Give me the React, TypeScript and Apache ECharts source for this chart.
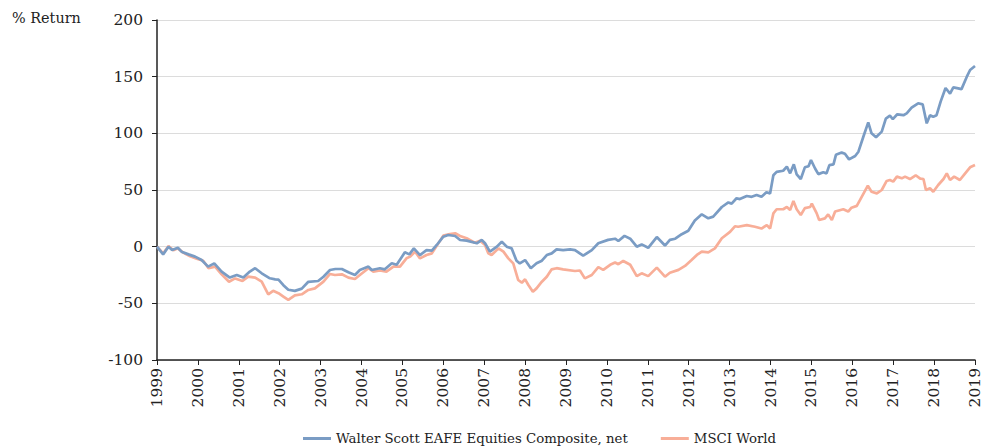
import React, { useEffect, useRef } from "react";
import * as echarts from "echarts";

const seriesNames = ["Walter Scott EAFE Equities Composite, net", "MSCI World"];
const yTicks = { min: -100, max: 200, interval: 50 };
const xTicks = { min: 1999, max: 2019, interval: 1 };

const wsYears = [
  1999.0, 1999.15, 1999.28, 1999.37, 1999.51, 1999.6, 1999.77, 1999.93, 2000.09, 2000.25, 2000.4, 2000.58,
  2000.78, 2000.95, 2001.11, 2001.27, 2001.4, 2001.56, 2001.76, 2001.89, 2001.97, 2002.09, 2002.21, 2002.37,
  2002.54, 2002.7, 2002.94, 2003.07, 2003.23, 2003.36, 2003.52, 2003.68, 2003.84, 2003.96, 2004.17, 2004.25,
  2004.45, 2004.57, 2004.74, 2004.86, 2005.06, 2005.17, 2005.28, 2005.43, 2005.59, 2005.72, 2005.84, 2006.0,
  2006.12, 2006.29, 2006.41, 2006.57, 2006.82, 2006.94, 2007.02, 2007.14, 2007.31, 2007.43, 2007.55, 2007.67,
  2007.79, 2007.87, 2008.0, 2008.14, 2008.28, 2008.41, 2008.53, 2008.65, 2008.77, 2008.93, 2009.1, 2009.22,
  2009.42, 2009.63, 2009.79, 2010.03, 2010.2, 2010.28, 2010.43, 2010.57, 2010.73, 2010.85, 2011.01, 2011.22,
  2011.42, 2011.54, 2011.67, 2011.83, 2011.99, 2012.15, 2012.32, 2012.48, 2012.6, 2012.81, 2012.97, 2013.05,
  2013.17, 2013.25, 2013.42, 2013.54, 2013.66, 2013.78, 2013.9, 2013.99, 2014.07, 2014.15, 2014.31, 2014.4,
  2014.48, 2014.57, 2014.64, 2014.74, 2014.84, 2014.93, 2014.99, 2015.09, 2015.17, 2015.29, 2015.37, 2015.44,
  2015.54, 2015.6, 2015.74, 2015.82, 2015.92, 2016.07, 2016.15, 2016.27, 2016.39, 2016.47, 2016.58, 2016.72,
  2016.82, 2016.92, 2016.99, 2017.1, 2017.25, 2017.33, 2017.45, 2017.61, 2017.72, 2017.82, 2017.9, 2017.98,
  2018.06, 2018.16, 2018.28, 2018.39, 2018.47, 2018.59, 2018.67, 2018.8, 2018.88, 2019.0,
];
const wsValues = [
  0, -6.8, 0, -3, -1, -4.4, -6.8, -8.8, -11.8, -17.6, -14.7, -22,
  -27.3, -25, -27.3, -22, -19, -23.5, -27.9, -28.8, -29, -34, -38, -39,
  -37, -31, -30.3, -26.5, -20.6, -19.7, -19.7, -22.6, -25, -20.6, -17.6, -20.6,
  -19, -20, -14.7, -16, -5, -6.8, -1.5, -7.4, -3, -3.5, 1.5, 8.8,
  10.3, 9.4, 5.9, 5.3, 3, 5.9, 3, -4.4, 0, 4.4, 0, -1.5,
  -12.4, -14.7, -11.8, -19, -14.7, -12.4, -7.4, -5.9, -2.4, -3, -2.4, -3,
  -8, -3, 3, 6, 7, 5, 9.5, 7, 0, 2, -1, 8.5,
  1, 6, 7, 11, 14, 23, 28.5, 25, 26.5, 35, 39, 38,
  42.7, 42, 44.7, 44, 45.6, 44, 48, 47, 63, 66, 67, 70.6,
  64.7, 72.6, 63.8, 59.7, 70, 71, 76.5, 69, 64, 65.6, 64.7, 72,
  72.6, 81, 83, 82, 77, 80, 83.8, 97, 109.7, 100, 96.5, 101.5,
  113, 115.6, 112.6, 116.8, 116, 117.6, 122.6, 126.5, 125.6, 108.8, 116, 114.7,
  116, 128, 140, 135, 140.6, 139.7, 139, 150, 155.9, 159.4,
];

const msYears = [
  1999.0, 1999.15, 1999.28, 1999.4, 1999.51, 1999.64, 1999.81, 1999.97, 2000.13, 2000.26, 2000.42, 2000.58,
  2000.76, 2000.91, 2001.09, 2001.23, 2001.4, 2001.56, 2001.72, 2001.84, 2001.97, 2002.09, 2002.21, 2002.37,
  2002.54, 2002.7, 2002.86, 2003.07, 2003.23, 2003.35, 2003.52, 2003.68, 2003.84, 2003.96, 2004.17, 2004.29,
  2004.45, 2004.61, 2004.78, 2004.94, 2005.1, 2005.19, 2005.31, 2005.43, 2005.59, 2005.72, 2005.88, 2006.0,
  2006.16, 2006.29, 2006.41, 2006.57, 2006.77, 2006.9, 2007.02, 2007.1, 2007.18, 2007.35, 2007.47, 2007.59,
  2007.71, 2007.83, 2007.92, 2008.0, 2008.08, 2008.19, 2008.28, 2008.41, 2008.53, 2008.65, 2008.77, 2008.93,
  2009.22, 2009.34, 2009.46, 2009.63, 2009.79, 2009.91, 2010.08, 2010.2, 2010.28, 2010.4, 2010.57, 2010.73,
  2010.85, 2011.01, 2011.22, 2011.42, 2011.54, 2011.75, 2011.91, 2012.07, 2012.2, 2012.32, 2012.48, 2012.64,
  2012.81, 2013.01, 2013.13, 2013.21, 2013.42, 2013.62, 2013.78, 2013.91, 2013.99, 2014.07, 2014.15, 2014.31,
  2014.4, 2014.48, 2014.56, 2014.64, 2014.74, 2014.84, 2014.97, 2015.01, 2015.13, 2015.19, 2015.33, 2015.41,
  2015.5, 2015.58, 2015.78, 2015.9, 2015.98, 2016.11, 2016.23, 2016.38, 2016.47, 2016.6, 2016.72, 2016.84,
  2016.92, 2017.0, 2017.09, 2017.21, 2017.29, 2017.41, 2017.55, 2017.66, 2017.74, 2017.8, 2017.9, 2017.98,
  2018.1, 2018.23, 2018.31, 2018.39, 2018.49, 2018.63, 2018.76, 2018.88, 2019.0,
];
const msValues = [
  0, -6, 0.5, -3.2, -1.5, -5.3, -8.5, -10.6, -12.4, -19, -17.6, -24.4,
  -30.9, -28, -30.3, -26.5, -27.3, -30.9, -42, -39, -41, -44, -47, -43,
  -42, -38.2, -36.8, -30.9, -24.1, -25, -24.4, -27.3, -28.5, -25, -19, -22,
  -21, -22, -17.6, -17.6, -10.3, -8.8, -4.4, -10.3, -7.4, -5.9, 2.9, 9.7,
  11.2, 11.8, 9.4, 7.4, 3.5, 5.3, 1.5, -5.9, -7.4, -1.5, -4.4, -10.3,
  -14.7, -29.4, -31.8, -28.8, -33.8, -39.7, -36.8, -30.9, -26.5, -20, -19, -20,
  -21.5, -21, -28, -25, -18, -20.5, -16, -14, -15.5, -12.6, -16, -26,
  -23.5, -26, -18.5, -26.5, -23, -20.5, -17, -11.8, -7.3, -4.4, -5, -1.5,
  7.4, 13, 18, 17.6, 19, 17.6, 16, 19, 16, 29.4, 33, 33,
  35, 32.4, 40.3, 33, 28, 34, 35, 38, 29.4, 23.5, 25, 28.5,
  23.5, 31, 33, 31, 34.4, 36, 44, 53.8, 48.5, 47, 50, 58,
  58.8, 57.4, 61.8, 60.3, 61.8, 59.7, 63, 60, 59.7, 50, 51.5, 48.5,
  54.4, 59.7, 64.7, 58.8, 61.8, 58.8, 64.7, 70, 72,
];

const BLUE = "#7a9cc4";
const SALMON = "#f8ae98";
const FONT = "DejaVu Serif";
const TEXT = "#222222";
const AXIS_FS = 15.5;
const LEGEND_FS = 13.3;

export default function App() {
  const ref = useRef<HTMLDivElement>(null);
  useEffect(() => {
    if (!ref.current) return;
    const chart = echarts.init(ref.current, null, { renderer: "svg" });
    chart.setOption({
      animation: false,
      textStyle: { fontFamily: FONT, color: TEXT },
      grid: { left: 157, right: 15, top: 20, bottom: 88, containLabel: false },
      graphic: [
        {
          type: "text",
          left: 12,
          top: 11,
          style: { text: "% Return", font: `14.4px "${FONT}"`, fill: TEXT },
        },
      ],
      legend: {
        left: 298,
        top: 427,
        icon: "rect",
        itemWidth: 28,
        itemHeight: 3,
        itemGap: 33,
        textStyle: { fontFamily: FONT, fontSize: LEGEND_FS, color: TEXT },
        data: seriesNames,
      },
      xAxis: {
        type: "value",
        min: xTicks.min,
        max: xTicks.max,
        interval: xTicks.interval,
        axisLine: { show: true, onZero: false, lineStyle: { color: "#222", width: 1.5 } },
        axisTick: { show: true, length: 5, lineStyle: { color: "#222" } },
        splitLine: { show: false },
        axisLabel: {
          rotate: 90,
          margin: 8,
          fontFamily: FONT,
          fontSize: AXIS_FS,
          color: TEXT,
          formatter: (v: number) => String(Math.round(v)),
        },
      },
      yAxis: {
        type: "value",
        min: yTicks.min,
        max: yTicks.max,
        interval: yTicks.interval,
        axisLine: { show: true, lineStyle: { color: "#222", width: 1.5 } },
        axisTick: { show: true, length: 5, lineStyle: { color: "#222" } },
        splitLine: { show: true, lineStyle: { color: "#dcdcdc", width: 1 } },
        axisLabel: { margin: 14, fontFamily: FONT, fontSize: AXIS_FS, color: TEXT },
      },
      series: [
        {
          name: seriesNames[0],
          type: "line",
          symbol: "none",
          data: wsYears.map((x, i) => [x, wsValues[i]]),
          lineStyle: { color: BLUE, width: 2.7 },
          itemStyle: { color: BLUE },
          z: 3,
        },
        {
          name: seriesNames[1],
          type: "line",
          symbol: "none",
          data: msYears.map((x, i) => [x, msValues[i]]),
          lineStyle: { color: SALMON, width: 2.7 },
          itemStyle: { color: SALMON },
          z: 2,
        },
      ],
    });
    return () => chart.dispose();
  }, []);
  return <div ref={ref} style={{ width: 990, height: 448, position: "absolute", left: 0, top: 0 }} />;
}
